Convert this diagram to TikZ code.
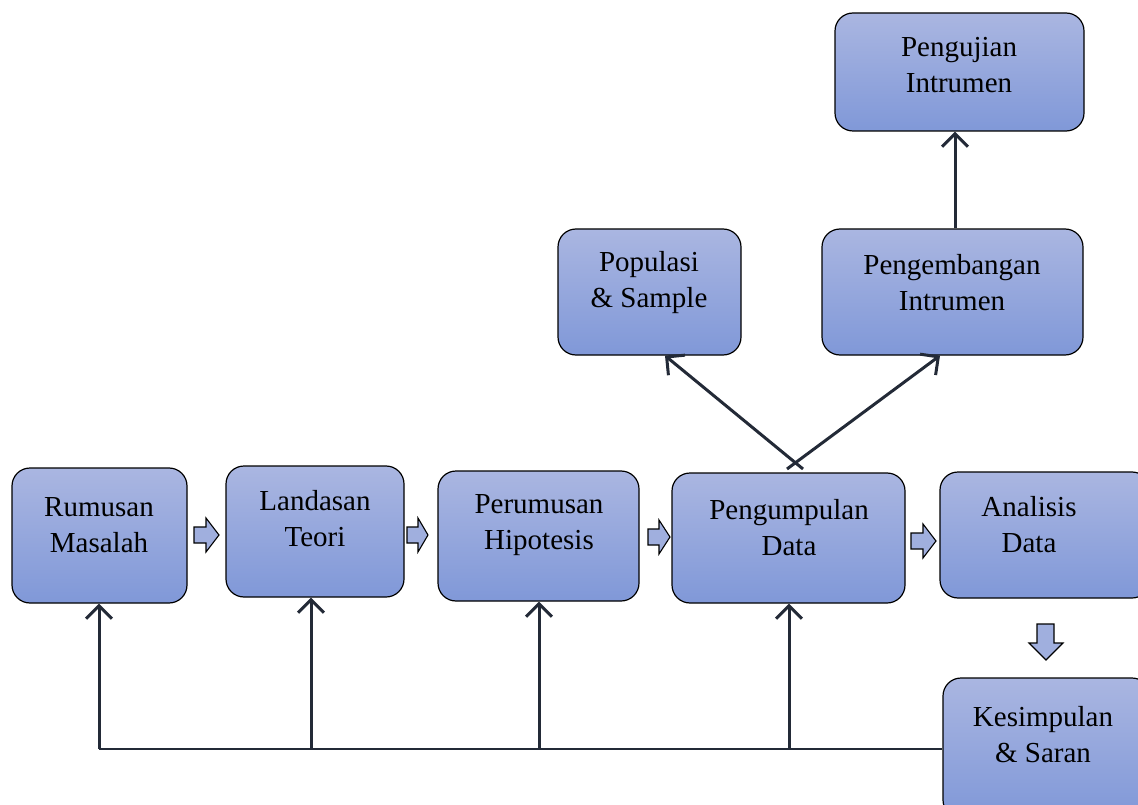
\documentclass[tikz,border=0pt]{standalone}
\usepackage{fontspec}
\setmainfont{Liberation Serif}
\usetikzlibrary{arrows.meta,calc}
\definecolor{boxtop}{RGB}{170,182,225}
\definecolor{boxbot}{RGB}{128,152,216}
\definecolor{lineclr}{RGB}{35,42,55}
\definecolor{arrfill}{RGB}{160,175,222}
\tikzset{
  box/.style={draw=black, line width=1.2pt, rounded corners=18pt, top color=boxtop, bottom color=boxbot, shading angle=0, inner sep=0pt},
  txt/.style={align=center, font=\fontsize{29}{36}\selectfont, inner sep=0pt},
  conn/.style={draw=lineclr, line width=3pt, -{Straight Barb[length=13pt,width=26pt]}},
  plain/.style={draw=lineclr, line width=2.2pt},
  blk/.style={draw=black, line width=1.1pt, fill=arrfill, line join=miter}
}
\begin{document}
\begin{tikzpicture}[x=1pt,y=-1pt]
\useasboundingbox (0,0) rectangle (1138,805);
% boxes (corner coordinates in px)
\newcommand{\mkbox}[5]{\node[box, minimum width=#4-#2, minimum height=#5-#3] (#1) at ({(#2+#4)/2},{(#3+#5)/2}) {};}
\mkbox{rm}{12}{468}{187}{603}
\mkbox{lt}{226}{466}{404}{597}
\mkbox{ph}{438}{471}{639}{601}
\mkbox{pd}{672}{473}{905}{603}
\mkbox{ad}{940}{472}{1150}{598}
\mkbox{ks}{943}{678}{1150}{818}
\mkbox{ps}{558}{229}{741}{355}
\mkbox{pi}{822}{229}{1083}{355}
\mkbox{ui}{835}{13}{1084}{131}
% texts
\node[txt] (trm) at (99,525) {Rumusan\\Masalah};
\node[txt] (tlt) at (315,519) {Landasan\\Teori};
\node[txt] (tph) at (539,525) {Perumusan\\Hipotesis};
\node[txt] (tpd) at (789,528) {Pengumpulan\\Data};
\node[txt] (tad) at (1029,525) {Analisis\\Data};
\node[txt] (tks) at (1043,735) {Kesimpulan\\\& Saran};
\node[txt] (tps) at (649,283) {Populasi\\\& Sample};
\node[txt] (tpi) at (952,283) {Pengembangan\\Intrumen};
\node[txt] (tui) at (959,65) {Pengujian\\Intrumen};
% block arrows (right)
\newcommand{\rarr}[4]{% x0 x1 xhead ycenter
  \draw[blk] (#1,#4-8) -- (#3,#4-8) -- (#3,#4-17) -- (#2,#4) -- (#3,#4+17) -- (#3,#4+8) -- (#1,#4+8) -- cycle;}
\rarr{194}{219}{206}{535}
\rarr{407}{428}{418}{535}
\rarr{648}{670}{659}{537}
\rarr{911}{936}{923}{541}
\draw[blk] (1037,624) -- (1054,624) -- (1054,643) -- (1063,643) -- (1046,660) -- (1029,643) -- (1037,643) -- cycle;
% feedback lines
\coordinate (c1) at (99,749);
\coordinate (c2) at (311,749);
\coordinate (c3) at (539,749);
\coordinate (c4) at (789,749);
\draw[plain] (c1) -- (ks.west |- c1);
\draw[conn] (c1) -- (rm.south -| c1);
\draw[conn] (c2) -- (lt.south -| c2);
\draw[conn] (c3) -- (ph.south -| c3);
\draw[conn] (c4) -- (pd.south -| c4);
% diagonals
\coordinate (d1) at (803,469);
\coordinate (d2) at (787,469);
\draw[conn] (d1) -- (ps.south -| 665,0);
\draw[conn] (d2) -- (pi.south -| 940,0);
\draw[conn] (pi.north -| 955,0) -- (ui.south -| 955,0);
\end{tikzpicture}
\end{document}
